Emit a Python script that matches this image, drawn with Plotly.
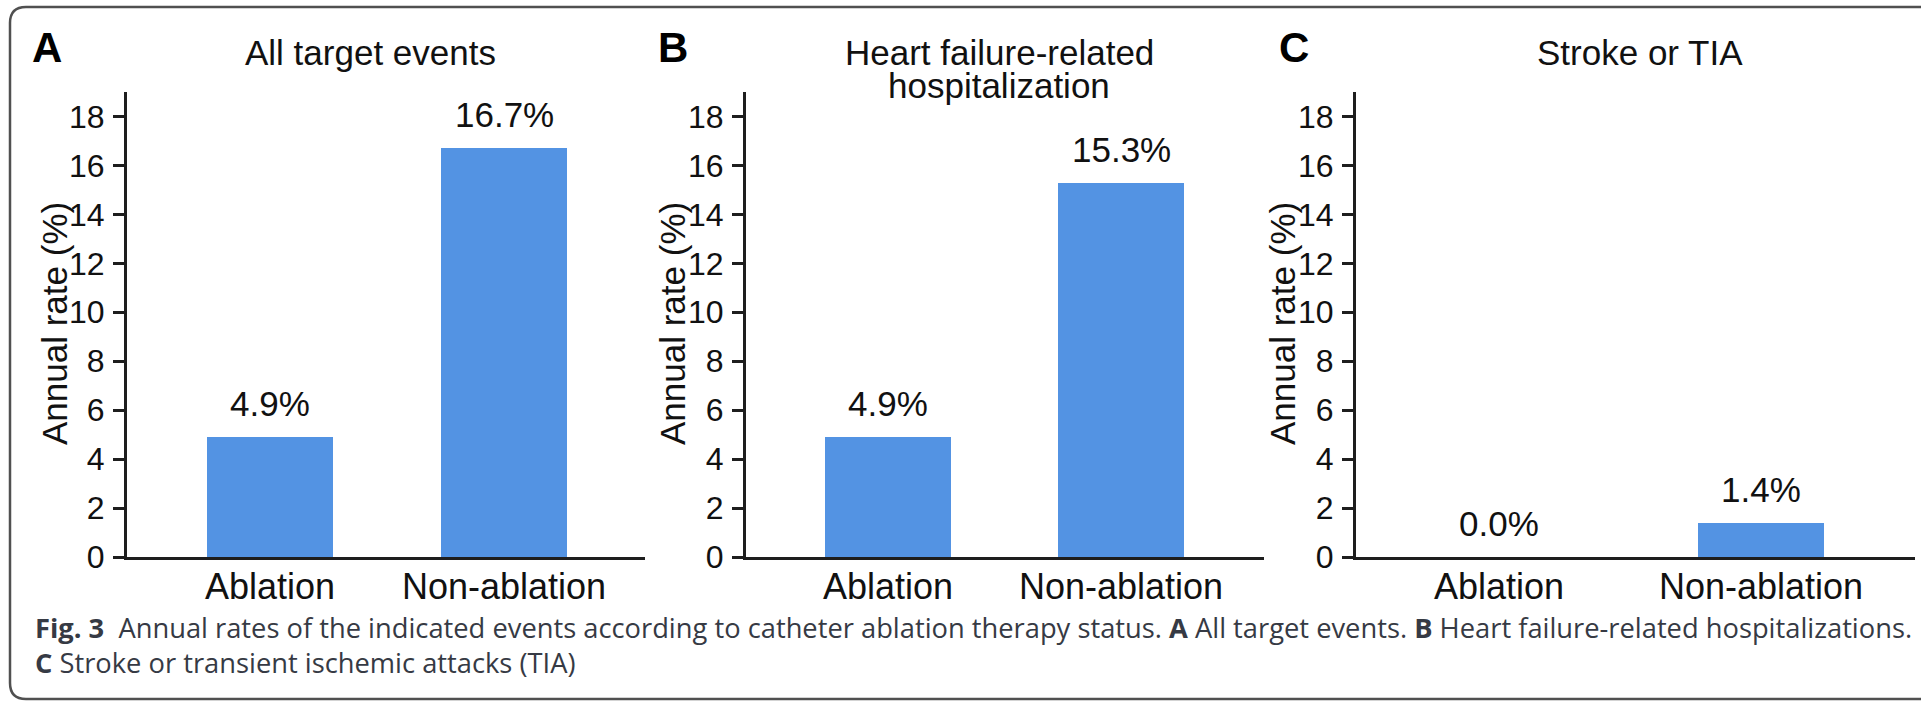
import plotly.graph_objects as go

# ---------------- data ----------------
categories = ["Ablation", "Non-ablation"]
all_target_events = [4.9, 16.7]
hf_hospitalization = [4.9, 15.3]
stroke_or_tia = [0.0, 1.4]
panel_letters = ["A", "B", "C"]
panel_titles = [["All target events"],
                ["Heart failure-related", "hospitalization"],
                ["Stroke or TIA"]]
y_ticks = [0, 2, 4, 6, 8, 10, 12, 14, 16, 18]
y_title = "Annual rate (%)"
caption_text = ("<b>Fig. 3</b>\u00a0\u00a0Annual rates of the indicated events according to catheter "
                "ablation therapy status. <b>A</b> All target events. <b>B</b> Heart failure-related "
                "hospitalizations.<br><b>C</b> Stroke or transient ischemic attacks (TIA)")

series = [all_target_events, hf_hospitalization, stroke_or_tia]

# ---------------- layout geometry (pixels) ----------------
W, H = 1921, 701
FONT = "Liberation Sans, Arial, sans-serif"
BAR_COLOR = "#5393E3"
AX_COLOR = "#1e1e1e"

def px(x):
    return x / W

def py(y):
    return 1 - y / H

panels = [
    dict(left=127, right=645, c0=270, c1=504, letter_x=47, title_x=370, ytitle_x=54),
    dict(left=746, right=1264, c0=888, c1=1121, letter_x=673, title_x=999, ytitle_x=672),
    dict(left=1356, right=1915, c0=1499, c1=1761, letter_x=1294, title_x=1640, ytitle_x=1282),
]
Y_TOP, Y_BOT = 92, 557
BAR_PX = 126

fig = go.Figure()
annotations = []

for i, (p, vals) in enumerate(zip(panels, series)):
    n = "" if i == 0 else str(i + 1)
    xa, ya = "x" + n, "y" + n
    spacing = p["c1"] - p["c0"]
    lo = -(p["c0"] - p["left"]) / spacing
    hi = 1 + (p["right"] - p["c1"]) / spacing
    fig.add_trace(go.Bar(
        x=list(range(len(categories))), y=vals, width=BAR_PX / spacing,
        marker=dict(color=BAR_COLOR, line=dict(width=0)),
        xaxis=xa, yaxis=ya, showlegend=False, hoverinfo="skip",
    ))
    fig.layout["xaxis" + n] = dict(
        domain=[px(p["left"]), px(p["right"])], range=[lo, hi], anchor=ya,
        tickvals=list(range(len(categories))), ticktext=categories,
        ticks="", showline=True, linewidth=3, linecolor=AX_COLOR,
        showgrid=False, zeroline=False, fixedrange=True, automargin=False,
        tickfont=dict(family=FONT, size=36, color="#111"), ticklabelstandoff=-4,
    )
    fig.layout["yaxis" + n] = dict(
        domain=[py(Y_BOT), py(Y_TOP)], range=[0, 19], anchor=xa,
        tickvals=y_ticks, ticks="outside", ticklen=11, tickwidth=2.5, tickcolor=AX_COLOR,
        showline=True, linewidth=3, linecolor=AX_COLOR,
        showgrid=False, zeroline=False, fixedrange=True, automargin=False,
        tickfont=dict(family=FONT, size=32, color="#111"), ticklabelstandoff=2,
    )
    for k, v in enumerate(vals):
        annotations.append(dict(
            x=k, y=v, xref=xa, yref=ya, text=f"{v:.1f}%", showarrow=False,
            yanchor="bottom", yshift=12, font=dict(family=FONT, size=35, color="#111"),
        ))
    annotations.append(dict(
        x=px(p["letter_x"]), y=py(47), xref="paper", yref="paper", text=f"<b>{panel_letters[i]}</b>",
        showarrow=False, xanchor="center", yanchor="middle",
        font=dict(family=FONT, size=42, color="#000"),
    ))
    for j, line in enumerate(panel_titles[i]):
        annotations.append(dict(
            x=px(p["title_x"]), y=py(52 + 33 * j), xref="paper", yref="paper", text=line,
            showarrow=False, xanchor="center", yanchor="middle",
            font=dict(family=FONT, size=35, color="#111"),
        ))
    annotations.append(dict(
        x=px(p["ytitle_x"]), y=py(324), xref="paper", yref="paper", text=y_title,
        showarrow=False, xanchor="center", yanchor="middle", textangle=-90,
        font=dict(family=FONT, size=35, color="#111"),
    ))

CAP_FONT = "Open Sans, Noto Sans, sans-serif"
annotations.append(dict(
    x=px(33), y=py(645), xref="paper", yref="paper", text=caption_text,
    showarrow=False, xanchor="left", yanchor="middle", align="left",
    font=dict(family=CAP_FONT, size=27.3, color="#363a44"),
))

r = 16
x0, y0, y1, xr = 10, 7, 699, 1940
path = (f"M {px(xr)},{py(y0)} L {px(x0 + r)},{py(y0)} Q {px(x0)},{py(y0)} {px(x0)},{py(y0 + r)} "
        f"L {px(x0)},{py(y1 - r)} Q {px(x0)},{py(y1)} {px(x0 + r)},{py(y1)} L {px(xr)},{py(y1)}")
shapes = [dict(type="path", xref="paper", yref="paper", path=path,
               line=dict(color="#505050", width=2.5), fillcolor="rgba(0,0,0,0)")]

fig.update_layout(
    width=W, height=H, autosize=False,
    margin=dict(l=0, r=0, t=0, b=0, pad=0),
    paper_bgcolor="white", plot_bgcolor="white",
    annotations=annotations, shapes=shapes,
    bargap=0,
)

fig.write_html("out.html", config={"displayModeBar": False},
               post_script="document.body.style.margin='0';document.body.style.overflow='hidden';")
